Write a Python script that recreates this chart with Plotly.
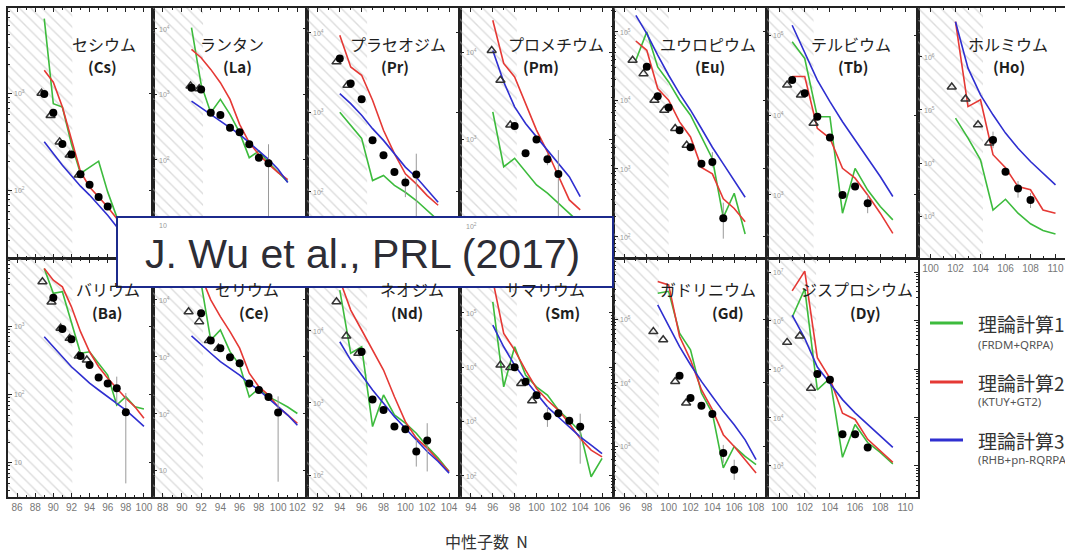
import math
import plotly.graph_objects as go

W, H = 1065, 554

# ---------------------------------------------------------------
# Beta-decay half-lives (ms) versus neutron number N
#   *_n / *_t        : this measurement (filled circles)
#   *_prev_n/_prev_t : earlier measurements (open triangles)
#   *_th_n           : N grid of the three model calculations
#   *_frdm / *_ktuy / *_rhb : model half-lives (ms)
#   *_err_n/_hi/_lo  : error bar extents where visible
# ---------------------------------------------------------------

# Cs (Z=55)
cs_n = [89, 90, 91, 92, 93, 94, 95, 96]
cs_t = [980, 630, 300, 233, 146, 114, 85, 68]
cs_prev_n = [88.7, 89.7, 90.7, 91.8, 92.8]
cs_prev_t = [1000, 590, 315, 230, 143]
cs_th_n = [89, 90, 91, 92, 93, 94, 95, 96, 97]
cs_frdm = [5900, 780, 720, 300, 149, 174, 199, 96, 53]
cs_ktuy = [1730, 1300, 720, 330, 155, 108, 85, 67, 51]
cs_rhb = [316, 239, 181, 141, 110, 89, 70, 55, 42]
cs_err_n, cs_err_hi, cs_err_lo = [], [], []

# La (Z=57)
la_n = [91, 92, 93, 94, 95, 96, 97, 98, 99]
la_t = [1265, 1190, 525, 483, 310, 265, 173, 108, 89]
la_prev_n = [90.9, 91.8]
la_prev_t = [1340, 1220]
la_th_n = [91, 92, 93, 94, 95, 96, 97, 98, 99, 100, 101]
la_frdm = [10500, 1420, 525, 839, 495, 260, 108, 136, 91, 64, 46]
la_ktuy = [4870, 3630, 2410, 1510, 839, 348, 183, 121, 86, 64, 50]
la_rhb = [790, 626, 495, 391, 310, 245, 183, 136, 102, 72, 45]
la_err_n, la_err_hi, la_err_lo = [99], [173], [8]

# Pr (Z=59)
pr_n = [94, 95, 96, 97, 98, 99, 100, 101]
pr_t = [4740, 2300, 1460, 444, 289, 178, 131, 166]
pr_prev_n = [93.7, 94.7]
pr_prev_t = [4300, 2180]
pr_th_n = [94, 95, 96, 97, 98, 99, 100, 101, 102, 103]
pr_frdm = [1000, 692, 470, 139, 161, 121, 99, 78, 58, 44]
pr_ktuy = [9300, 3710, 2920, 1415, 594, 302, 169, 126, 90, 68]
pr_rhb = [1720, 1286, 917, 623, 444, 302, 205, 153, 105, 74]
pr_err_n, pr_err_hi, pr_err_lo = [100, 101], [155, 302], [86, 30]

# Pm (Z=61)
pm_n = [98, 99, 100, 101, 102]
pm_t = [1410, 685, 990, 584, 396]
pm_prev_n = [95.9, 96.7, 97.6]
pm_prev_t = [10500, 4760, 1450]
pm_th_n = [96, 97, 98, 99, 100, 101, 102, 103, 104]
pm_frdm = [2060, 480, 600, 421, 296, 238, 183, 140, 107]
pm_ktuy = [23400, 7440, 5200, 2570, 1270, 714, 369, 199, 153]
pm_rhb = [10500, 4560, 2350, 1510, 1060, 747, 526, 369, 217]
pm_err_n, pm_err_hi, pm_err_lo = [101, 102], [680, 747], [500, 50]

# Eu (Z=63)
eu_n = [98, 99, 100, 101, 102, 103, 104, 105]
eu_t = [30800, 11400, 7800, 3620, 2050, 1170, 1250, 187]
eu_prev_n = [96.7, 97.7, 98.7, 99.6, 100.6, 101.65]
eu_prev_t = [38500, 24500, 10000, 7140, 3850, 2190]
eu_th_n = [97, 98, 99, 100, 101, 102, 103, 104, 105, 106, 107]
eu_frdm = [38500, 100000, 30700, 18500, 10000, 6030, 2900, 1390, 193, 435, 110]
eu_ktuy = [73600, 53800, 14800, 10000, 4810, 2900, 1040, 835, 360, 260, 166]
eu_rhb = [175000, 94500, 45600, 23200, 12500, 7140, 3850, 2050, 1170, 667, 380]
eu_err_n, eu_err_hi, eu_err_lo = [104, 105], [1740, 316], [1040, 94]

# Tb (Z=65)
tb_n = [101, 102, 103, 104, 105, 106, 107]
tb_t = [27400, 18700, 9520, 5250, 1000, 1270, 785]
tb_prev_n = [100.6, 101.7, 102.7]
tb_prev_t = [23700, 17800, 7880]
tb_th_n = [101, 102, 103, 104, 105, 106, 107, 108, 109]
tb_frdm = [82800, 51000, 9520, 9520, 590, 2150, 1150, 715, 487]
tb_ktuy = [30300, 30300, 6810, 5120, 2150, 1620, 1000, 590, 330]
tb_rhb = [133000, 59000, 27400, 14700, 8250, 4870, 2880, 1700, 955]
tb_err_n, tb_err_hi, tb_err_lo = [107], [1000], [590]

# Ho (Z=67)
ho_n = [105, 106, 107, 108]
ho_t = [27000, 6870, 3350, 2030]
ho_prev_n = [101.7, 102.8, 103.8, 104.7]
ho_prev_t = [267000, 159000, 52300, 23800]
ho_th_n = [102, 103, 104, 105, 106, 107, 108, 109, 110]
ho_frdm = [69800, 29400, 11500, 1320, 2100, 1150, 726, 546, 470]
ho_ktuy = [4500000, 115000, 154000, 14400, 8200, 3630, 3170, 1320, 1150]
ho_rhb = [4500000, 604000, 191000, 80600, 36600, 19000, 10700, 6470, 3900]
ho_err_n, ho_err_hi, ho_err_lo = [105, 107, 108], [39000, 4600, 2760], [19000, 2250, 1440]

# Ba (Z=56)
ba_n = [90, 91, 92, 93, 94, 95, 96, 97, 98]
ba_t = [2590, 905, 640, 365, 270, 176, 145, 123, 55]
ba_prev_n = [88.8, 89.8, 90.8, 91.8, 92.8, 93.7]
ba_prev_t = [4440, 2250, 930, 660, 365, 319]
ba_th_n = [89, 90, 91, 92, 93, 94, 95, 96, 97, 98, 99, 100]
ba_frdm = [6940, 3000, 3170, 1090, 400, 420, 285, 192, 70, 93, 66, 61]
ba_ktuy = [6940, 4690, 3740, 1910, 826, 420, 254, 172, 123, 88, 66, 45]
ba_rhb = [698, 498, 356, 254, 193, 146, 116, 93, 74, 59, 45, 34]
ba_err_n, ba_err_hi, ba_err_lo = [97, 98], [182, 105], [74, 5]

# Ce (Z=58)
ce_n = [92, 93, 94, 95, 96, 97, 98, 99, 100]
ce_t = [5830, 1920, 1410, 975, 765, 338, 258, 196, 104]
ce_prev_n = [90.7, 91.8, 92.8, 93.8]
ce_prev_t = [6190, 4140, 1920, 1410]
ce_th_n = [91, 92, 93, 94, 95, 96, 97, 98, 99, 100, 101, 102]
ce_frdm = [None, 19600, 1960, 2960, 1230, 712, 196, 276, 196, 162, 130, 100]
ce_ktuy = [None, 25800, 10000, 5080, 2760, 1410, 513, 297, 211, 131, 94, 67]
ce_rhb = [2320, 1610, 1150, 817, 620, 475, 340, 258, 184, 131, 94, 62]
ce_err_n, ce_err_hi, ce_err_lo = [100], [200], [6.3]

# Nd (Z=60)
nd_n = [96, 97, 98, 99, 100, 101, 102]
nd_t = [5120, 1120, 800, 471, 434, 213, 302]
nd_prev_n = [93.7, 94.6, 95.7]
nd_prev_t = [25000, 8400, 4850]
nd_th_n = [94, 95, 96, 97, 98, 99, 100, 101, 102, 103, 104]
nd_frdm = [36300, 4870, 5980, 471, 1290, 683, 525, 382, 250, 173, 113]
nd_ktuy = [50000, 19200, 10200, 5380, 2850, 1220, 552, 326, 237, 163, 113]
nd_rhb = [7020, 3920, 2430, 1510, 990, 647, 448, 309, 213, 155, 107]
nd_err_n, nd_err_hi, nd_err_lo = [101, 102], [309, 525], [132, 113]

# Sm (Z=62)
sm_n = [98, 99, 100, 101, 102, 103, 104]
sm_t = [10000, 5370, 3050, 1250, 1410, 1030, 800]
sm_prev_n = [96.7, 97.6, 98.6, 99.6]
sm_prev_t = [10900, 9800, 5000, 2400]
sm_th_n = [96, 97, 98, 99, 100, 101, 102, 103, 104, 105, 106]
sm_frdm = [159000, 4340, 23700, 7120, 4340, 3050, 1620, 1050, 645, 96, 209]
sm_ktuy = [400000, 41700, 20600, 8800, 4050, 2460, 1620, 920, 484, 297, 223]
sm_rhb = [59500, 23700, 10900, 5760, 3280, 1860, 1210, 795, 522, 366, 257]
sm_err_n, sm_err_hi, sm_err_lo = [101, 104], [1860, 1390], [795, 167]

# Gd (Z=64)
gd_n = [101, 102, 103, 104, 105, 106]
gd_t = [12900, 5740, 4340, 3220, 780, 426]
gd_prev_n = [98.6, 99.5, 100.6, 101.6]
gd_prev_t = [64000, 47600, 10500, 4800]
gd_th_n = [99, 100, 101, 102, 103, 104, 105, 106, 107, 108]
gd_frdm = [258000, 276000, 60600, 33000, 6880, 3330, 455, 990, 690, 513]
gd_ktuy = [394000, 348000, 53500, 23000, 7760, 3760, 1520, 990, 613, 377]
gd_rhb = [169000, 77000, 37200, 19200, 10500, 6080, 3540, 2180, 1260, 613]
gd_err_n, gd_err_hi, gd_err_lo = [105, 106], [1050, 613], [546, 295]

# Dy (Z=66)
dy_n = [103, 104, 105, 106, 107]
dy_t = [79000, 60000, 4490, 4490, 2410]
dy_prev_n = [100.6, 101.6, 102.5]
dy_prev_t = [355000, 480000, 40000]
dy_th_n = [101, 102, 103, 104, 105, 106, 107, 108, 109]
dy_frdm = [1170000, 4500000, 37000, 64600, 1510, 7200, 3040, 1900, 1100]
dy_ktuy = [4100000, 10500000, 172000, 64600, 12300, 9100, 3550, 2050, 1190]
dy_rhb = [1300000, 427000, 110000, 51300, 23400, 12500, 7200, 4150, 2410]
dy_err_n, dy_err_hi, dy_err_lo = [], [], []

# Element names (Japanese) and symbols
names = {
    "cs": ("セシウム", "(Cs)"), "la": ("ランタン", "(La)"), "pr": ("プラセオジム", "(Pr)"),
    "pm": ("プロメチウム", "(Pm)"), "eu": ("ユウロピウム", "(Eu)"), "tb": ("テルビウム", "(Tb)"),
    "ho": ("ホルミウム", "(Ho)"), "ba": ("バリウム", "(Ba)"), "ce": ("セリウム", "(Ce)"),
    "nd": ("ネオジム", "(Nd)"), "sm": ("サマリウム", "(Sm)"), "gd": ("ガドリニウム", "(Gd)"),
    "dy": ("ジスプロシウム", "(Dy)"),
}

model_labels = ["理論計算1", "理論計算2", "理論計算3"]
model_notes = ["(FRDM+QRPA)", "(KTUY+GT2)", "(RHB+pn-RQRPA)"]
citation = "J. Wu et al., PRL (2017)"
x_title = "中性子数  N"

data = {
    k: dict(n=g[k + "_n"], t=g[k + "_t"], pn=g[k + "_prev_n"], pt=g[k + "_prev_t"],
            th=g[k + "_th_n"], frdm=g[k + "_frdm"], ktuy=g[k + "_ktuy"], rhb=g[k + "_rhb"],
            en=g[k + "_err_n"], ehi=g[k + "_err_hi"], elo=g[k + "_err_lo"])
    for g in [globals()] for k in names
}

# ---------------- layout of the panel grid (pixels) ----------------
TOP = (8, 258)
BOT = (259, 497)
panels = [
    # key, x0, x1, row, x-range, log10 y-range, hatched up to N, name x, symbol x
    dict(key="cs", x0=8, x1=153, row=TOP, xr=[85, 101], yr=[1.30, 3.88], hatch=92.1, nx=104, sx=102),
    dict(key="la", x0=153, x1=307, row=TOP, xr=[87, 103], yr=[0.50, 4.32], hatch=92.2, nx=232, sx=237),
    dict(key="pr", x0=307, x1=460, row=TOP, xr=[91, 105], yr=[1.17, 4.31], hatch=96.5, nx=398, sx=395),
    dict(key="pm", x0=460, x1=613, row=TOP, xr=[93, 107], yr=[1.63, 4.51], hatch=98.2, nx=556, sx=541),
    dict(key="eu", x0=614, x1=767, row=TOP, xr=[95, 109], yr=[1.69, 5.35], hatch=100.0, nx=708, sx=710),
    dict(key="tb", x0=767, x1=918, row=TOP, xr=[99, 111], yr=[2.21, 5.34], hatch=102.7, nx=851, sx=853),
    dict(key="ho", x0=918, x1=1065, row=TOP, xr=[99, 110.76], yr=[2.22, 6.91], hatch=104.2, nx=1008, sx=1009),
    dict(key="ba", x0=8, x1=153, row=BOT, xr=[85, 101], yr=[0.50, 3.98], hatch=92.1, nx=108, sx=107),
    dict(key="ce", x0=153, x1=307, row=BOT, xr=[87, 103], yr=[0.53, 4.72], hatch=92.2, nx=247, sx=254),
    dict(key="nd", x0=307, x1=460, row=BOT, xr=[91, 105], yr=[1.70, 4.99], hatch=96.5, nx=412, sx=407),
    dict(key="sm", x0=460, x1=613, row=BOT, xr=[93, 107], yr=[1.61, 5.99], hatch=98.2, nx=545, sx=562),
    dict(key="gd", x0=614, x1=767, row=BOT, xr=[95, 109], yr=[2.20, 5.95], hatch=99.1, nx=708, sx=728),
    dict(key="dy", x0=767, x1=918, row=BOT, xr=[99, 111], yr=[2.36, 7.27], hatch=102.9, nx=857, sx=865),
]

GREEN, RED, BLUE = "#3dbb3d", "#e53935", "#2f2fd0"
AXIS = "#222222"
CJK = "Noto Sans CJK JP"


def px(x):
    return x / W


def py(y):
    return 1 - y / H


def decade_label(k):
    return "10" if k == 1 else f"10<sup>{k}</sup>"


fig = go.Figure()
layout = {}
annotations = []
shapes = []

for i, p in enumerate(panels, start=1):
    d = data[p["key"]]
    xs = "" if i == 1 else str(i)
    xref, yref = "x" + xs, "y" + xs
    top_row = p["row"] is TOP
    is_ho = p["key"] == "ho"
    y0, y1 = p["row"]

    ylo, yhi = 10 ** p["yr"][0], 10 ** p["yr"][1]

    # hatched band for the previously known region
    fig.add_trace(go.Scatter(
        x=[p["xr"][0], p["hatch"], p["hatch"], p["xr"][0], p["xr"][0]],
        y=[ylo, ylo, yhi, yhi, ylo],
        mode="lines", line=dict(width=0), fill="toself",
        fillcolor="rgba(255,255,255,0)",
        fillpattern=dict(shape="\\", fgcolor="#b9b9b9", bgcolor="rgba(255,255,255,0)",
                         size=8, solidity=0.17),
        hoverinfo="skip", showlegend=False, xaxis=xref, yaxis=yref))

    # model curves
    for vals, col in ((d["frdm"], GREEN), (d["ktuy"], RED), (d["rhb"], BLUE)):
        fig.add_trace(go.Scatter(x=d["th"], y=vals, mode="lines",
                                 line=dict(color=col, width=1.6),
                                 showlegend=False, xaxis=xref, yaxis=yref))

    # error bars
    if d["en"]:
        ex, ey = [], []
        for n, hi, lo in zip(d["en"], d["ehi"], d["elo"]):
            ex += [n, n, None]
            ey += [lo, hi, None]
        fig.add_trace(go.Scatter(x=ex, y=ey, mode="lines",
                                 line=dict(color="#9a9a9a", width=1),
                                 showlegend=False, xaxis=xref, yaxis=yref))

    # previous measurements
    fig.add_trace(go.Scatter(x=d["pn"], y=d["pt"], mode="markers",
                             marker=dict(symbol="triangle-up-open", size=8, color="#333333",
                                         line=dict(width=1.5)),
                             showlegend=False, xaxis=xref, yaxis=yref))
    # this measurement
    fig.add_trace(go.Scatter(x=d["n"], y=d["t"], mode="markers",
                             marker=dict(symbol="circle", size=8, color="#000000"),
                             showlegend=False, xaxis=xref, yaxis=yref))

    k0, k1 = math.ceil(p["yr"][0]), math.floor(p["yr"][1])
    majors = [10 ** k for k in range(k0, k1 + 1)]
    minors = [m * 10 ** k for k in range(k0 - 1, k1 + 1) for m in range(2, 10)
              if p["yr"][0] <= math.log10(m * 10 ** k) <= p["yr"][1]]

    layout["xaxis" + xs] = dict(
        domain=[px(p["x0"]), px(p["x1"])], range=p["xr"], anchor=yref,
        showline=True, linecolor=AXIS, linewidth=1.5, mirror="ticks",
        ticks="inside", ticklen=4, tickwidth=1, tickcolor=AXIS,
        tick0=0, dtick=2, showticklabels=(not top_row) or is_ho,
        tickfont=dict(size=10, color="#777777", family="Liberation Sans"),
        minor=dict(dtick=1, tick0=0, ticks="inside", ticklen=2, tickcolor=AXIS, tickwidth=1),
        showgrid=False, zeroline=False, fixedrange=True)
    layout["yaxis" + xs] = dict(
        type="log", domain=[py(y1), py(y0)], range=p["yr"], anchor=xref,
        showline=True, linecolor=AXIS, linewidth=1.5, mirror=(False if is_ho else "ticks"),
        ticks="inside", ticklen=4, tickwidth=1, tickcolor=AXIS,
        tickmode="array", tickvals=majors, showticklabels=False,
        minor=dict(tickmode="array", tickvals=minors, ticks="inside", ticklen=2,
                   tickcolor=AXIS, tickwidth=1),
        showgrid=False, zeroline=False, fixedrange=True)

    # decade labels sit just inside the left frame, next to the major ticks
    span = p["yr"][1] - p["yr"][0]
    for k in range(k0, k1 + 1):
        ypix = y1 - (k - p["yr"][0]) / span * (y1 - y0)
        annotations.append(dict(x=px(p["x0"] + 4), y=py(ypix), xref="paper", yref="paper",
                                text=decade_label(k), showarrow=False, xanchor="left",
                                yanchor="middle",
                                font=dict(size=7, color="#9a9a9a", family="Liberation Sans")))

    name, sym = names[p["key"]]
    ny, sy = (44, 66) if top_row else (289, 312)
    annotations.append(dict(x=px(p["nx"]), y=py(ny), xref="paper", yref="paper",
                            text=name, showarrow=False, xanchor="center", yanchor="middle",
                            font=dict(family=CJK, size=16, color="#1e1e1e")))
    annotations.append(dict(x=px(p["sx"]), y=py(sy), xref="paper", yref="paper",
                            text=f"<b>{sym}</b>", showarrow=False, xanchor="center",
                            yanchor="middle", font=dict(family=CJK, size=15, color="#1e1e1e")))

# legend for the three model calculations
for lab, note, col, ly, ny in zip(model_labels, model_notes, (GREEN, RED, BLUE),
                                  (323, 382, 440), (344, 401, 459)):
    shapes.append(dict(type="line", xref="paper", yref="paper",
                       x0=px(930), x1=px(963), y0=py(ly), y1=py(ly),
                       line=dict(color=col, width=3)))
    annotations.append(dict(x=px(976), y=py(ly), xref="paper", yref="paper", text=lab,
                            showarrow=False, xanchor="left", yanchor="middle",
                            font=dict(family=CJK, size=19, color="#333333")))
    annotations.append(dict(x=px(976), y=py(ny), xref="paper", yref="paper", text=note,
                            showarrow=False, xanchor="left", yanchor="middle",
                            font=dict(family="Noto Sans", size=11.5, color="#555555")))

# x-axis title
annotations.append(dict(x=px(486), y=py(541), xref="paper", yref="paper", text=x_title,
                        showarrow=False, xanchor="center", yanchor="middle",
                        font=dict(family=CJK, size=16, color="#333333")))

# citation banner
shapes.append(dict(type="rect", xref="paper", yref="paper", x0=px(117), x1=px(613),
                   y0=py(287), y1=py(217), fillcolor="white",
                   line=dict(color="#1c2a8c", width=2), layer="above"))
annotations.append(dict(x=px(362), y=py(254), xref="paper", yref="paper", text=citation,
                        showarrow=False, xanchor="center", yanchor="middle",
                        font=dict(family="Liberation Sans", size=41, color="#2d2d35")))

fig.update_layout(
    width=W, height=H, margin=dict(l=0, r=0, t=0, b=0),
    paper_bgcolor="white", plot_bgcolor="white",
    showlegend=False, annotations=annotations, shapes=shapes,
    font=dict(family="Liberation Sans"),
    **layout)

fig.write_html("out.html")
